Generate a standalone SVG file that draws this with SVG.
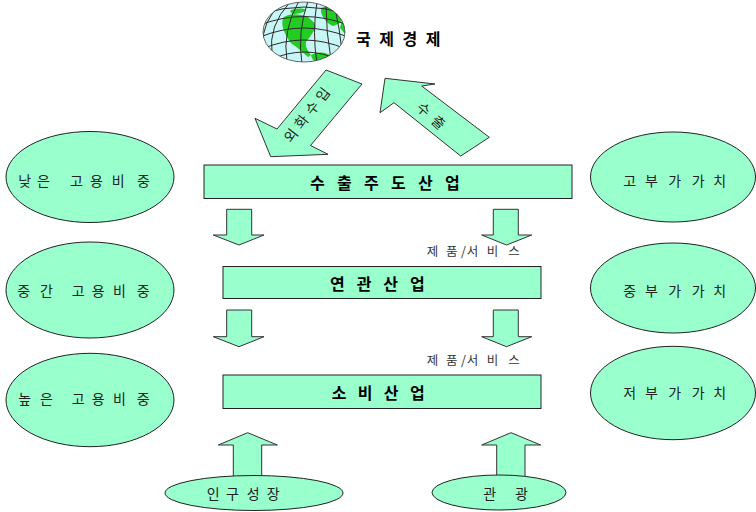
<svg xmlns="http://www.w3.org/2000/svg" width="756" height="512" viewBox="0 0 756 512">
  <style>
    .shape { fill: #99ffcc; stroke: #222; stroke-width: 1; }
    .arrow { fill: #99ffcc; stroke: #333; stroke-width: 1; stroke-linejoin: miter; }
    .lbl { font-family: "Noto Sans CJK KR", "Noto Sans", sans-serif; font-size: 14px; fill: #222; }
    .title { font-family: "Noto Sans CJK KR", "Noto Sans", sans-serif; font-size: 16px; font-weight: bold; fill: #000; }
    .small { font-family: "Noto Sans CJK KR", "Noto Sans", sans-serif; font-size: 12.5px; fill: #333; }
    .grid { fill: none; stroke: #2a2a2a; stroke-width: 1; }
    .land { fill: #22cc22; }
  </style>
  <defs>
    <clipPath id="globeClip">
      <ellipse cx="304" cy="32" rx="41" ry="30"/>
    </clipPath>
  </defs>

  <!-- block arrows -->
  <g id="connectors">
    <!-- foreign currency flowing in -->
    <polygon class="arrow" points="326,70 362,84 310.5,145.5 328,154.3 270.7,156.7 255,118.3 277,129"/>
    <text class="lbl" transform="translate(307,115) rotate(-52)" text-anchor="middle" font-size="15" letter-spacing="4.5" dx="2.2" dy="5">외화수입</text>
    <!-- exports going out -->
    <polygon class="arrow" points="385,78.3 435,84 421.7,86 489.3,137.3 460.7,156 394,102.7 380,112.7"/>
    <text class="lbl" transform="translate(431,116) rotate(42)" text-anchor="middle" letter-spacing="7" dx="3.5" dy="5">수출</text>

    <!-- down arrows between industry tiers -->
    <polygon class="arrow" points="226.7,209.3 251.7,209.3 251.7,235 264,235 239,245 213.3,235 226.7,235"/>
    <polygon class="arrow" points="493.3,209.3 518.3,209.3 518.3,235 531.7,235 506.5,245 481.7,235 493.3,235"/>
    <polygon class="arrow" points="226.7,310 251.7,310 251.7,336.7 264,336.7 239,346.7 213.3,336.7 226.7,336.7"/>
    <polygon class="arrow" points="493.3,310 518.3,310 518.3,336.7 531.7,336.7 506.5,346.7 481.7,336.7 493.3,336.7"/>
    <text class="small" x="426.7 446 461 466.7 486.7 508.3" y="256">제품/서비스</text>
    <text class="small" x="426.7 446 461 466.7 486.7 508.3" y="365">제품/서비스</text>

    <!-- up arrows from demand drivers -->
    <polygon class="arrow" points="233.3,478 233.3,445 218.3,445 247.7,432.7 277.3,445 261.7,445 261.7,478"/>
    <polygon class="arrow" points="496.7,478 496.7,445 481.7,445 511,432.7 540.7,445 525,445 525,478"/>
  </g>

  <!-- world economy -->
  <g id="world">
    <ellipse cx="304" cy="32" rx="41" ry="30" fill="#c8f6f6"/>
    <g clip-path="url(#globeClip)">
      <path class="land" d="M284,17 C291,13 300,14 308,17 C312,21 317,23 315,29 C312,34 309,38 306,42 C305,47 308,51 311,55 L308,57 C302,52 297,47 292,44 C288,40 285,34 283,28 C282,23 282,19 284,17Z"/>
      <path class="land" d="M290,11 C295,8 302,8 306,10 C303,13 297,14 292,14Z"/>
      <path class="land" d="M321,8 C329,4 338,6 344,12 C346,18 340,24 333,26 C327,24 323,18 321,12Z"/>
      <path class="land" d="M311,55 C318,51 327,52 333,57 C334,62 328,64 320,64 C315,63 312,60 311,55Z"/>
      <path class="land" d="M342,20 C346,22 347,29 345,34 L340,28Z"/>
      <!-- parallels -->
      <path class="grid" d="M262,14 Q304,0 346,14"/>
      <path class="grid" d="M260,25 Q304,8 348,25"/>
      <path class="grid" d="M260,37 Q304,19 348,37"/>
      <path class="grid" d="M262,49 Q304,31 346,49"/>
      <path class="grid" d="M270,60 Q304,44 340,60"/>
      <!-- meridians -->
      <path class="grid" d="M290,2 Q268,26 272,54"/>
      <path class="grid" d="M299,1 Q282,30 287,62"/>
      <path class="grid" d="M308,1 Q297,32 302,64"/>
      <path class="grid" d="M317,2 Q312,32 317,64"/>
      <path class="grid" d="M326,4 Q326,32 331,60"/>
      <path class="grid" d="M335,8 Q340,30 342,52"/>
      <path class="grid" d="M280,5 Q262,22 263,44"/>
    </g>
    <ellipse cx="304" cy="32" rx="41" ry="30" fill="none" stroke="#444" stroke-width="0.8"/>
    <text class="title" x="356" y="45" font-size="18" letter-spacing="8.5">국제경제</text>
  </g>

  <!-- industry tiers -->
  <g id="export-industry">
    <rect class="shape" x="204" y="165" width="368" height="33.5"/>
    <text class="title" x="310 337 364 391 418 445" y="189">수출주도산업</text>
  </g>
  <g id="related-industry">
    <rect class="shape" x="223" y="266.5" width="318" height="32"/>
    <text class="title" x="330 356.7 383.3 410" y="290">연관산업</text>
  </g>
  <g id="consumer-industry">
    <rect class="shape" x="223" y="375" width="318" height="33.5"/>
    <text class="title" x="331.7 357.7 383.7 410" y="398.5">소비산업</text>
  </g>

  <!-- employment share -->
  <g id="employment-low">
    <ellipse class="shape" cx="90" cy="177" rx="84" ry="45.5"/>
    <text class="lbl" x="18.3 37 52 70 90 111.7 137" y="186">낮은 고용비중</text>
  </g>
  <g id="employment-mid">
    <ellipse class="shape" cx="90" cy="290" rx="84" ry="48"/>
    <text class="lbl" x="17.3 40 55 71.7 91.7 113 136.7" y="296">중간 고용비중</text>
  </g>
  <g id="employment-high">
    <ellipse class="shape" cx="90" cy="400" rx="84" ry="46.7"/>
    <text class="lbl" x="18.3 40 55 71.7 91.7 113 136.7" y="404">높은 고용비중</text>
  </g>

  <!-- value added -->
  <g id="value-high">
    <ellipse class="shape" cx="673" cy="177" rx="82.5" ry="45"/>
    <text class="lbl" x="623.3 645 668.3 691.7 713.3" y="186">고부가가치</text>
  </g>
  <g id="value-mid">
    <ellipse class="shape" cx="673" cy="288" rx="82.5" ry="45"/>
    <text class="lbl" x="623.3 645 668.3 691.7 713.3" y="296">중부가가치</text>
  </g>
  <g id="value-low">
    <ellipse class="shape" cx="673" cy="393" rx="82.5" ry="46.7"/>
    <text class="lbl" x="623.3 645 668.3 691.7 713.3" y="397.5">저부가가치</text>
  </g>

  <!-- demand drivers -->
  <g id="population">
    <ellipse class="shape" cx="254" cy="493" rx="89" ry="17.5"/>
    <text class="lbl" x="206.7 226 246.7 266.7" y="499">인구성장</text>
  </g>
  <g id="tourism">
    <ellipse class="shape" cx="499" cy="492.5" rx="67" ry="17.5"/>
    <text class="lbl" x="483.3 499 515" y="499">관 광</text>
  </g>
</svg>
